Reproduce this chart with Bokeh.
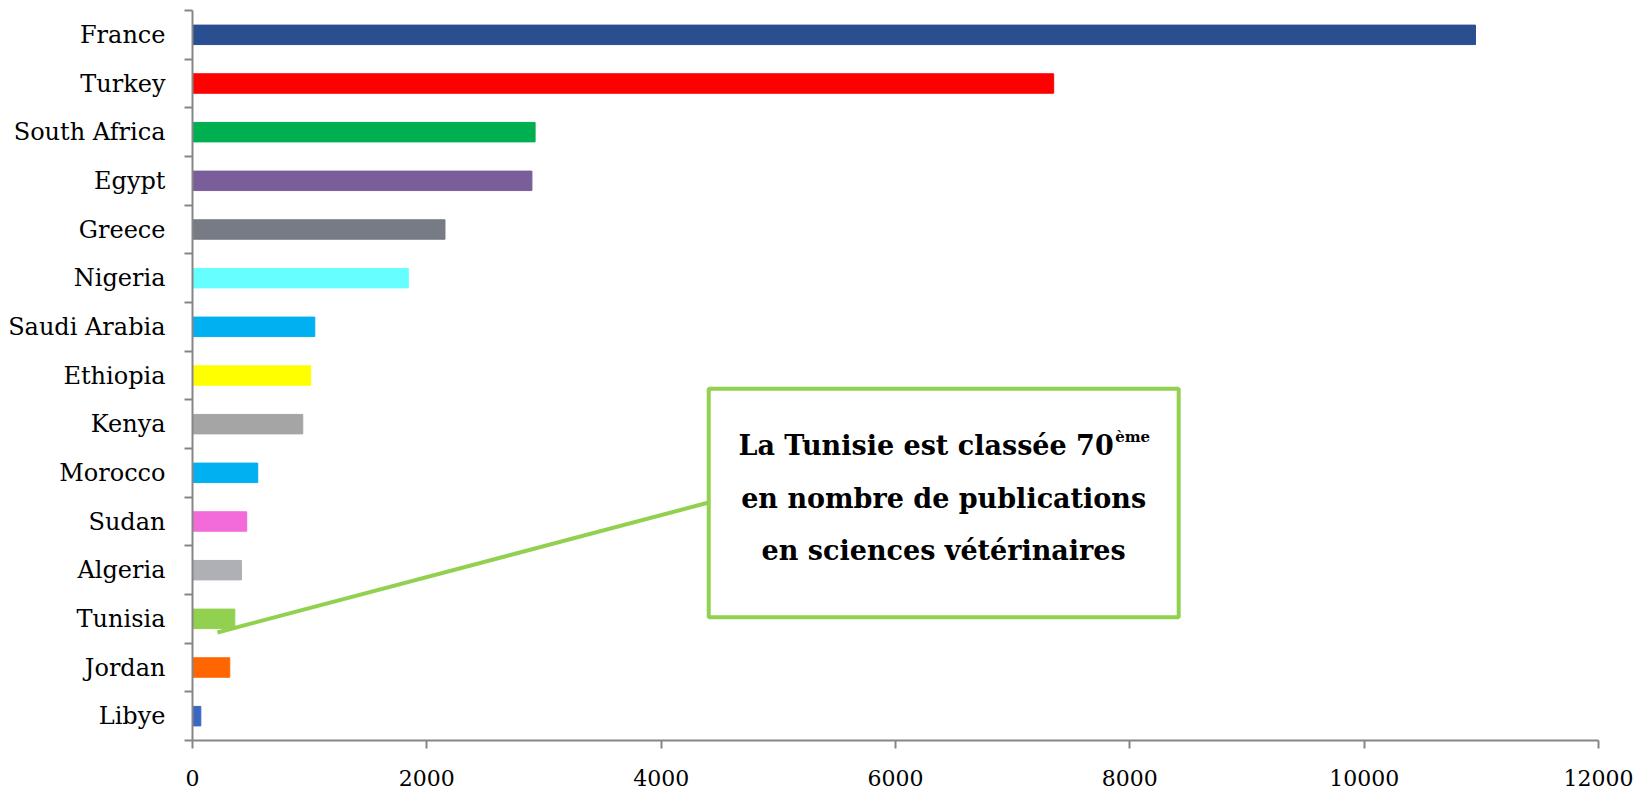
from bokeh.plotting import figure
from bokeh.models import FixedTicker, BoxAnnotation, Label, Range1d
from bokeh.embed import file_html
from bokeh.resources import INLINE

countries = ["France", "Turkey", "South Africa", "Egypt", "Greece", "Nigeria",
             "Saudi Arabia", "Ethiopia", "Kenya", "Morocco", "Sudan", "Algeria",
             "Tunisia", "Jordan", "Libye"]
publications = [10950, 7350, 2924, 2897, 2155, 1842, 1044, 1009, 941, 557, 463,
                418, 361, 318, 71]
colors = ["#2A4F91", "#FF0000", "#00B050", "#7A5E99", "#777B84", "#66FFFF",
          "#00B0F0", "#FFFF00", "#A5A5A5", "#00B0F0", "#F26BD9", "#AEB0B5",
          "#92D050", "#FF6600", "#3A66C4"]
x_ticks = [0, 2000, 4000, 6000, 8000, 10000, 12000]

n = len(countries)
centers = [i + 0.5 for i in range(n)]
bounds = [float(i) for i in range(n + 1)]

p = figure(width=1640, height=796, output_backend="svg", toolbar_location=None,
           x_range=Range1d(0, 12000), y_range=Range1d(n, 0),
           min_border_left=192, min_border_right=42, min_border_top=10,
           min_border_bottom=56)
p.outline_line_color = None
p.xgrid.visible = False
p.ygrid.visible = False

p.hbar(y=centers, right=publications, left=0, height=0.4, color=colors)

axis_col = "#868686"
# y axis
ya = p.yaxis[0]
ya.ticker = FixedTicker(ticks=centers, minor_ticks=bounds)
ya.major_label_overrides = {c: name for c, name in zip(centers, countries)}
ya.major_tick_out = 0
ya.major_tick_in = 0
ya.minor_tick_out = 8
ya.minor_tick_in = 0
ya.minor_tick_line_color = axis_col
ya.minor_tick_line_width = 2
ya.axis_line_color = axis_col
ya.axis_line_width = 2
ya.major_label_text_font = "DejaVu Serif"
ya.major_label_text_font_size = "24px"
ya.major_label_text_color = "black"
ya.major_label_standoff = 19

# x axis
xa = p.xaxis[0]
xa.ticker = FixedTicker(ticks=x_ticks)
xa.major_tick_out = 8
xa.major_tick_in = 0
xa.minor_tick_out = 0
xa.minor_tick_in = 0
xa.major_tick_line_color = axis_col
xa.major_tick_line_width = 2
xa.axis_line_color = axis_col
xa.axis_line_width = 2
xa.major_label_text_font = "DejaVu Serif"
xa.major_label_text_font_size = "22px"
xa.major_label_text_color = "black"
xa.major_label_standoff = 21

green = "#92D050"
# leader line from Tunisia bar to the annotation box
p.line(x=[213, 4406], y=[12.78, 10.11], line_color=green, line_width=4)

box = BoxAnnotation(left=4406, right=8417, top=7.77, bottom=12.47,
                    fill_color="white", fill_alpha=1.0,
                    line_color=green, line_width=4, line_alpha=1.0)
p.add_layout(box)

font = "DejaVu Serif"
common = dict(text_font=font, text_font_style="bold", text_font_size="27px",
              text_color="black", text_baseline="middle")
p.add_layout(Label(x=7862, y=8.94, text="La Tunisie est classée 70",
                   text_align="right", **common))
p.add_layout(Label(x=7875, y=8.76, text="ème", text_align="left",
                   text_font=font, text_font_style="bold", text_font_size="15px",
                   text_color="black", text_baseline="middle"))
p.add_layout(Label(x=6411, y=10.03, text="en nombre de publications",
                   text_align="center", **common))
p.add_layout(Label(x=6411, y=11.10, text="en sciences vétérinaires",
                   text_align="center", **common))

open("out.html", "w").write(file_html(p, INLINE))
